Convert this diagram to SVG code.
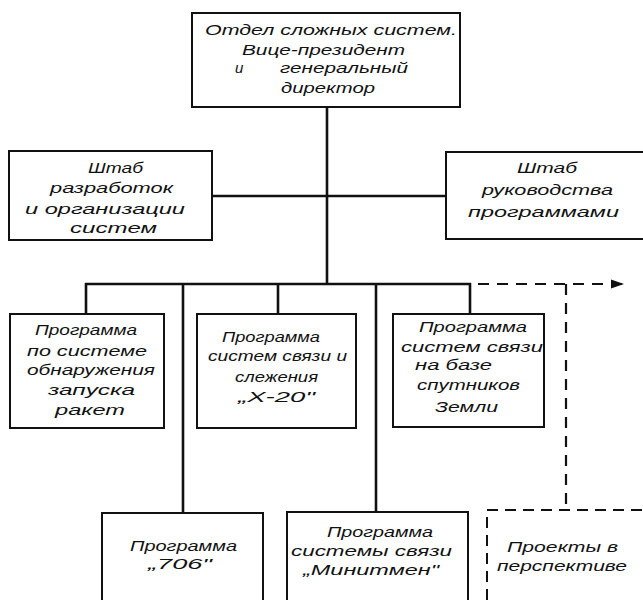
<svg xmlns="http://www.w3.org/2000/svg" width="643" height="600" viewBox="0 0 643 600">
<style>
.box{fill:#fff;stroke:#111;stroke-width:2}
.dbox{fill:none;stroke:#111;stroke-width:2;stroke-dasharray:11 7}
.ln{fill:none;stroke:#111;stroke-width:2.6}
.dl{fill:none;stroke:#111;stroke-width:2.2;stroke-dasharray:11 8}
text{font-family:"Liberation Sans","DejaVu Sans",sans-serif;font-style:italic;font-size:15px;fill:#111}
.s{font-size:14px}
</style>
<defs>
<marker id="arr" viewBox="0 0 10 10" refX="10" refY="5" markerWidth="6" markerHeight="6" markerUnits="strokeWidth" orient="auto">
<path d="M0,1.5 L10,5 L0,8.5 Z" fill="#111"/>
</marker>
</defs>
<rect width="643" height="600" fill="#fff"/>
<g id="connectors">
<line class="ln" x1="327" y1="107" x2="327" y2="284"/>
<line class="ln" x1="212" y1="196" x2="446" y2="196"/>
<line class="ln" x1="85" y1="284" x2="471" y2="284"/>
<line class="ln" x1="86" y1="283" x2="86" y2="314"/>
<line class="ln" x1="183" y1="283" x2="183" y2="513"/>
<line class="ln" x1="278" y1="283" x2="278" y2="314"/>
<line class="ln" x1="376" y1="283" x2="376" y2="512"/>
<line class="ln" x1="470" y1="283" x2="470" y2="314"/>
<line class="dl" x1="478" y1="284" x2="624" y2="284" marker-end="url(#arr)"/>
<line class="dl" x1="566" y1="284" x2="566" y2="510"/>
</g>
<g id="n-top">
<rect class="box" x="192" y="13" width="268" height="94"/>
<text x="205" y="35" textLength="252" lengthAdjust="spacingAndGlyphs">Отдел  сложных  систем.</text>
<text x="242" y="55" textLength="163" lengthAdjust="spacingAndGlyphs">Вице-президент</text>
<text x="235" y="73">и</text>
<text x="280" y="73" textLength="128" lengthAdjust="spacingAndGlyphs">генеральный</text>
<text x="281" y="93" textLength="94" lengthAdjust="spacingAndGlyphs">директор</text>
</g>
<g id="n-left">
<rect class="box" x="9" y="151" width="203" height="89"/>
<text x="88" y="173" textLength="55" lengthAdjust="spacingAndGlyphs">Штаб</text>
<text x="50" y="193" textLength="123" lengthAdjust="spacingAndGlyphs">разработок</text>
<text x="25" y="214" textLength="160" lengthAdjust="spacingAndGlyphs">и  организации</text>
<text x="70" y="233" textLength="87" lengthAdjust="spacingAndGlyphs">систем</text>
</g>
<g id="n-right">
<rect class="box" x="446" y="152" width="200" height="87"/>
<text x="517" y="173" textLength="60" lengthAdjust="spacingAndGlyphs">Штаб</text>
<text x="482" y="195" textLength="131" lengthAdjust="spacingAndGlyphs">руководства</text>
<text x="468" y="217" textLength="151" lengthAdjust="spacingAndGlyphs">программами</text>
</g>
<g id="n-p1">
<rect class="box" x="10" y="314" width="154" height="114"/>
<text x="35" y="335" textLength="102" lengthAdjust="spacingAndGlyphs">Программа</text>
<text x="27" y="356" textLength="120" lengthAdjust="spacingAndGlyphs">по  системе</text>
<text x="27" y="375" textLength="128" lengthAdjust="spacingAndGlyphs">обнаружения</text>
<text x="48" y="395" textLength="87" lengthAdjust="spacingAndGlyphs">запуска</text>
<text x="55" y="415" textLength="70" lengthAdjust="spacingAndGlyphs">ракет</text>
</g>
<g id="n-p2">
<rect class="box" x="197" y="314" width="159" height="114"/>
<text x="222" y="342" textLength="98" lengthAdjust="spacingAndGlyphs">Программа</text>
<text x="208" y="361" textLength="139" lengthAdjust="spacingAndGlyphs">систем связи и</text>
<text x="235" y="382" textLength="83" lengthAdjust="spacingAndGlyphs">слежения</text>
<text x="238" y="402" textLength="77" lengthAdjust="spacingAndGlyphs">„X-20"</text>
</g>
<g id="n-p3">
<rect class="box" x="393" y="314" width="151" height="113"/>
<text x="419" y="332" textLength="108" lengthAdjust="spacingAndGlyphs">Программа</text>
<text x="401" y="352" textLength="142" lengthAdjust="spacingAndGlyphs">систем связи</text>
<text x="415" y="370" textLength="77" lengthAdjust="spacingAndGlyphs">на  базе</text>
<text x="417" y="390" textLength="103" lengthAdjust="spacingAndGlyphs">спутников</text>
<text x="435" y="412" textLength="63" lengthAdjust="spacingAndGlyphs">Земли</text>
</g>
<g id="n-706">
<rect class="box" x="102" y="513" width="161" height="100"/>
<text class="s" x="130" y="551" textLength="107" lengthAdjust="spacingAndGlyphs">Программа</text>
<text class="s" x="148" y="569" textLength="64" lengthAdjust="spacingAndGlyphs">„706"</text>
</g>
<g id="n-minuteman">
<rect class="box" x="287" y="512" width="181" height="100"/>
<text class="s" x="327" y="537" textLength="106" lengthAdjust="spacingAndGlyphs">Программа</text>
<text class="s" x="291" y="556" textLength="161" lengthAdjust="spacingAndGlyphs">системы связи</text>
<text class="s" x="303" y="575" textLength="136" lengthAdjust="spacingAndGlyphs">„Минитмен"</text>
</g>
<g id="n-future">
<rect class="dbox" x="487" y="510" width="170" height="100"/>
<text class="s" x="507" y="552" textLength="111" lengthAdjust="spacingAndGlyphs">Проекты в</text>
<text class="s" x="497" y="571" textLength="130" lengthAdjust="spacingAndGlyphs">перспективе</text>
</g>
</svg>
